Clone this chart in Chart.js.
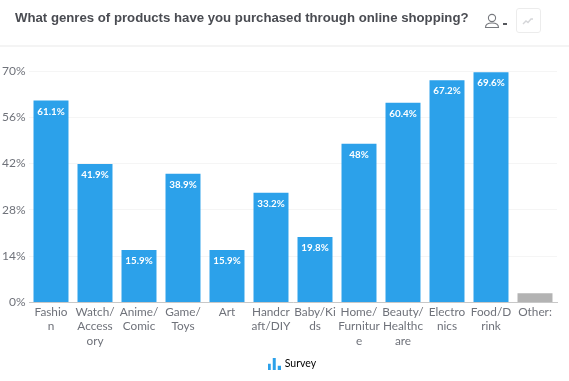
<!DOCTYPE html>
<html lang="en">
<head>
    <meta charset="UTF-8">
    <title>Online shopping genres</title>
    <script src="https://cdn.jsdelivr.net/npm/chart.js"></script>
    <style>
        html, body { margin: 0; padding: 0; background: #fff; overflow: hidden; }
        .page { position: relative; width: 569px; height: 381px; }
        #surveyChart { position: absolute; left: 0; top: 0; }
        .title { position: absolute; left: 15px; top: 10px; font: 700 13.2px "Liberation Sans", sans-serif; color: #4a4c52; white-space: nowrap; }
        .divider { position: absolute; left: 0; right: 0; top: 45px; height: 2px; background: #f4f4f4; }
        .icon { position: absolute; }
        .trendBox { position: absolute; left: 516px; top: 8px; width: 23px; height: 23px; border: 1px solid #ececec; border-radius: 3px; }
    </style>
</head>
<body>
<div class="page">
    <canvas id="surveyChart" width="569" height="381"></canvas>
    <div class="title">What genres of products have you purchased through online shopping?</div>
    <div class="divider"></div>
    <svg class="icon" style="left:484px;top:13px" width="24" height="16">
        <circle cx="8" cy="5" r="3.6" fill="none" stroke="#77797e" stroke-width="1.1"/>
        <path d="M1.5 14.5c0-3 2.5-4.5 6.5-4.5s6.5 1.5 6.5 4.5z" fill="none" stroke="#77797e" stroke-width="1.1"/>
        <rect x="19" y="10" width="4" height="2" fill="#55575c"/>
    </svg>
    <div class="trendBox"></div>
    <svg class="icon" style="left:522px;top:16px" width="13" height="10">
        <path d="M1 8l3-3 2 1.5 3-3.5 2 0" fill="none" stroke="#d5d6d9" stroke-width="1.4"/>
    </svg>
</div>
<script>
    const categories = [
        ['Fashio', 'n'], ['Watch/', 'Access', 'ory'], ['Anime/', 'Comic'], ['Game/', 'Toys'],
        ['Art'], ['Handcr', 'aft/DIY'], ['Baby/Ki', 'ds'], ['Home/', 'Furnitur', 'e'],
        ['Beauty/', 'Healthc', 'are'], ['Electro', 'nics'], ['Food/D', 'rink'], ['Other:']
    ];
    const values = [61.1, 41.9, 15.9, 38.9, 15.9, 33.2, 19.8, 48, 60.4, 67.2, 69.6, 2.8];
    const valueLabels = ['61.1%', '41.9%', '15.9%', '38.9%', '15.9%', '33.2%', '19.8%', '48%', '60.4%', '67.2%', '69.6%', ''];
    const barColors = ['#2ca1ea', '#2ca1ea', '#2ca1ea', '#2ca1ea', '#2ca1ea', '#2ca1ea', '#2ca1ea', '#2ca1ea', '#2ca1ea', '#2ca1ea', '#2ca1ea', '#b3b3b3'];

    // small bar glyph used as the legend marker
    const legendIcon = document.createElement('canvas');
    legendIcon.width = 13;
    legendIcon.height = 12;
    const iconCtx = legendIcon.getContext('2d');
    iconCtx.fillStyle = '#2ca1ea';
    iconCtx.fillRect(0, 6, 3, 6);
    iconCtx.fillRect(5, 0, 3, 12);
    iconCtx.fillRect(10, 8, 3, 4);

    // white percentage text inside the top of each bar
    const barLabels = {
        id: 'barLabels',
        afterLayout(chart) {
            // legend sits a bit right of the canvas centre in the original
            chart.legend.left += 14;
            chart.legend.right += 14;
        },
        afterDatasetsDraw(chart) {
            const ctx = chart.ctx;
            ctx.save();
            ctx.font = '700 9.8px Lato';
            ctx.fillStyle = '#fff';
            ctx.textAlign = 'center';
            ctx.textBaseline = 'middle';
            chart.getDatasetMeta(0).data.forEach((bar, i) => {
                ctx.fillText(valueLabels[i], bar.x, bar.y + 11);
            });
            ctx.restore();
        }
    };

    new Chart(document.getElementById('surveyChart'), {
        type: 'bar',
        data: {
            labels: categories,
            datasets: [{
                label: 'Survey',
                data: values,
                backgroundColor: barColors,
                categoryPercentage: 0.795,
                barPercentage: 1
            }]
        },
        options: {
            responsive: false,
            animation: false,
            layout: { padding: { top: 71, right: 12, bottom: 2 } },
            plugins: {
                legend: {
                    display: true,
                    position: 'bottom',
                    labels: {
                        color: '#63666d',
                        font: { family: 'Lato', size: 10.5 },
                        usePointStyle: true,
                        boxHeight: 12,
                        generateLabels: () => [{ text: 'Survey', pointStyle: legendIcon, fillStyle: '#2ca1ea', lineWidth: 0, hidden: false }]
                    }
                },
                title: { display: false },
                tooltip: { enabled: false }
            },
            scales: {
                x: {
                    afterFit(scale) { scale.height = 46; },
                    grid: { display: false, drawTicks: false },
                    border: { color: '#c8c8c8', width: 1 },
                    ticks: {
                        color: '#6f727a',
                        font: { family: 'Lato', size: 11.8, lineHeight: 1.23 },
                        maxRotation: 0,
                        autoSkip: false,
                        padding: 2
                    }
                },
                y: {
                    min: 0,
                    max: 70,
                    afterFit(scale) { scale.width = 29; },
                    grid: { color: '#f5f5f5', drawTicks: false },
                    border: { display: false },
                    ticks: {
                        stepSize: 14,
                        padding: 3.5,
                        color: '#6f727a',
                        font: { family: 'Lato', size: 12 },
                        callback: v => v + '%'
                    }
                }
            }
        },
        plugins: [barLabels]
    });
</script>
</body>
</html>
